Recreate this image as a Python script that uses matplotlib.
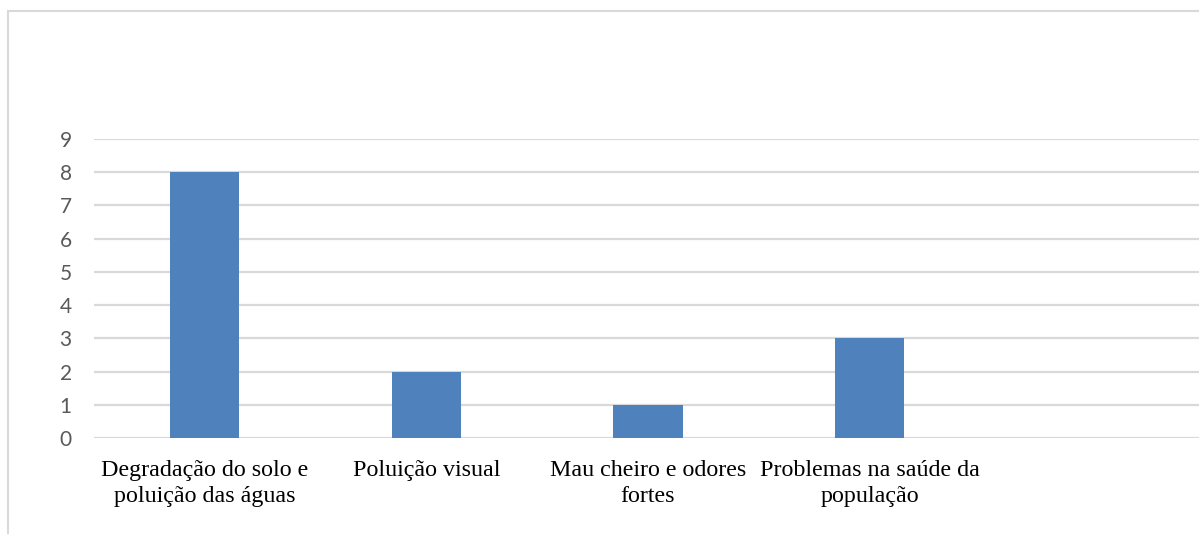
import matplotlib
matplotlib.use("Agg")
import matplotlib.pyplot as plt
from matplotlib.lines import Line2D

# Data
categories = [
    "Degradação do solo e\npoluição das águas",
    "Poluição visual",
    "Mau cheiro e odores\nfortes",
    "Problemas na saúde da\npopulação",
]
values = [8, 2, 1, 3]
y_ticks = list(range(0, 10))

W, H = 1199, 534
fig = plt.figure(figsize=(W / 100, H / 100), dpi=100)
fig.patch.set_facecolor("white")

# Plot area in pixel coordinates
left, right, top, bottom = 94, 1202, 139, 438
ax = fig.add_axes([left / W, (H - bottom) / H, (right - left) / W, (bottom - top) / H])

x = list(range(len(categories)))
ax.bar(x, values, width=0.313, color="#4F81BD", zorder=3)

ax.set_xlim(-0.5, 4.5)
ax.set_ylim(0, 9)
ax.set_yticks(y_ticks)
ax.set_yticklabels([str(t) for t in y_ticks], fontsize=15, color="#595959",
                   family=["Lato", "DejaVu Sans"])
ax.set_xticks(x)
ax.set_xticklabels(categories, fontsize=17.3, color="black",
                   family=["Liberation Serif", "DejaVu Serif"],
                   linespacing=1.3, ha="center", multialignment="center")

ax.tick_params(axis="y", length=0, pad=16)
ax.tick_params(axis="x", length=0, pad=16)
for s in ax.spines.values():
    s.set_visible(False)
ax.grid(axis="y", color="#d9d9d9", linewidth=1.6, zorder=0)
ax.set_axisbelow(True)

# Outer chart frame (left and top edges)
frame_color = "#d9d9d9"
fig.add_artist(Line2D([7.5 / W, 7.5 / W], [0, (H - 10.5) / H], color=frame_color,
                      linewidth=1.5, transform=fig.transFigure))
fig.add_artist(Line2D([7.5 / W, 1.0], [(H - 10.5) / H, (H - 10.5) / H], color=frame_color,
                      linewidth=1.5, transform=fig.transFigure))

fig.savefig("out.png", dpi=100, facecolor="white")
